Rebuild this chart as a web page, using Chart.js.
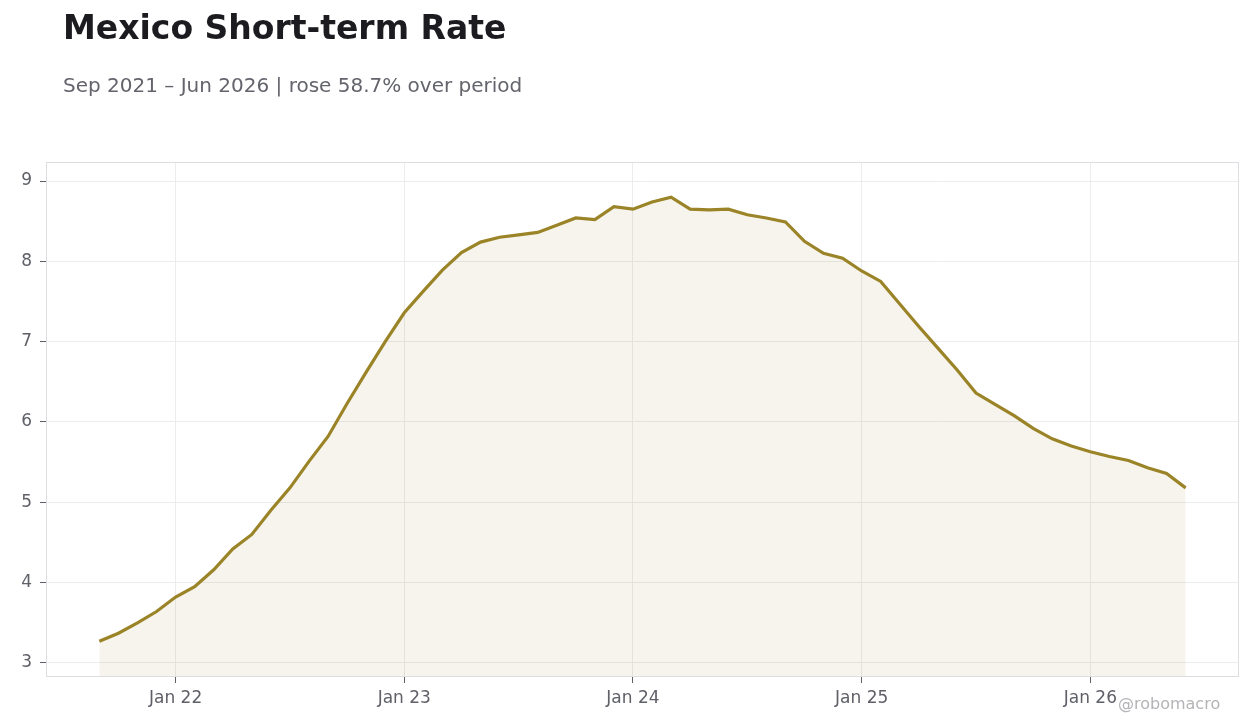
<!DOCTYPE html>
<html>
<head>
<meta charset="utf-8">
<script src="https://cdn.jsdelivr.net/npm/chart.js@4.4.1/dist/chart.umd.min.js"></script>
<style>
  html, body { margin: 0; padding: 0; background: #fff; }
  body { width: 1260px; height: 728px; position: relative; overflow: hidden; font-family: "DejaVu Sans", sans-serif; }
  #title { position: absolute; left: 63px; top: 8px; font-size: 33px; font-weight: bold; color: #1c1c20; }
  #subtitle { position: absolute; left: 63px; top: 73px; font-size: 20px; color: #63646c; }
  #credit { position: absolute; left: 1118px; top: 694px; font-size: 16px; color: #b4b4b8; }
  #wrap { position: absolute; left: 0; top: 0; width: 1260px; height: 728px; }
</style>
</head>
<body>
<div id="wrap"><canvas id="rateChart" width="1260" height="728"></canvas></div>
<div id="title">Mexico Short-term Rate</div>
<div id="subtitle">Sep 2021 – Jun 2026 | rose 58.7% over period</div>
<div id="credit">@robomacro</div>
<script>
// monthly observations, Sep 2021 .. Jun 2026
const months = [
  "Sep 21", "Oct 21", "Nov 21", "Dec 21",
  "Jan 22", "Feb 22", "Mar 22", "Apr 22", "May 22", "Jun 22", "Jul 22", "Aug 22", "Sep 22", "Oct 22", "Nov 22", "Dec 22",
  "Jan 23", "Feb 23", "Mar 23", "Apr 23", "May 23", "Jun 23", "Jul 23", "Aug 23", "Sep 23", "Oct 23", "Nov 23", "Dec 23",
  "Jan 24", "Feb 24", "Mar 24", "Apr 24", "May 24", "Jun 24", "Jul 24", "Aug 24", "Sep 24", "Oct 24", "Nov 24", "Dec 24",
  "Jan 25", "Feb 25", "Mar 25", "Apr 25", "May 25", "Jun 25", "Jul 25", "Aug 25", "Sep 25", "Oct 25", "Nov 25", "Dec 25",
  "Jan 26", "Feb 26", "Mar 26", "Apr 26", "May 26", "Jun 26"
];

const rates = [
  3.27, 3.37, 3.50, 3.64,
  3.82, 3.95, 4.16, 4.42, 4.60, 4.90, 5.18, 5.51, 5.82, 6.23, 6.62, 7.00,
  7.36, 7.63, 7.89, 8.11, 8.24, 8.30, 8.33, 8.36, 8.45, 8.54, 8.52, 8.68,
  8.65, 8.74, 8.80, 8.65, 8.64, 8.65, 8.58, 8.54, 8.49, 8.25, 8.10, 8.04,
  7.88, 7.75, 7.47, 7.19, 6.92, 6.65, 6.36, 6.22, 6.08, 5.92, 5.79, 5.70,
  5.63, 5.57, 5.52, 5.43, 5.36, 5.18
];

const yTicks = [3, 4, 5, 6, 7, 8, 9];

const lineColor = "#9a8427";
const fillColor = "rgba(156, 132, 40, 0.085)";
const textColor = "#5f6068";

// Jan positions for the x ticks
const janIdx = [];
months.forEach((m, i) => { if (m.startsWith("Jan")) janIdx.push(i); });

// light box round the plot area
const frame = {
  id: "frame",
  afterDraw(chart) {
    const a = chart.chartArea;
    const c = chart.ctx;
    c.save();
    c.strokeStyle = "#dddde2";
    c.lineWidth = 1;
    c.strokeRect(a.left + 0.5, a.top + 0.5, a.right - a.left - 1, a.bottom - a.top - 1);
    c.restore();
  }
};

const ctx = document.getElementById("rateChart").getContext("2d");
new Chart(ctx, {
  type: "line",
  data: {
    datasets: [{
      data: rates.map((v, i) => ({ x: i, y: v })),
      borderColor: lineColor,
      backgroundColor: fillColor,
      borderWidth: 3.2,
      fill: "start",
      tension: 0,
      pointRadius: 0
    }]
  },
  options: {
    responsive: false,
    animation: false,
    devicePixelRatio: 1,
    layout: { padding: { left: 0, right: 21, top: 162, bottom: 0 } },
    plugins: { legend: { display: false }, tooltip: { enabled: false } },
    scales: {
      x: {
        type: "linear",
        min: -2.8,
        max: 59.8,
        afterBuildTicks: s => { s.ticks = janIdx.map(v => ({ value: v })); },
        afterFit: s => { s.height = 51; },
        ticks: {
          color: textColor,
          font: { family: "DejaVu Sans", size: 17 },
          padding: 5,
          maxRotation: 0,
          autoSkip: false,
          callback: v => months[v]
        },
        grid: { color: "#ececee", tickLength: 6, tickColor: "#5f6068" },
        border: { display: false }
      },
      y: {
        type: "linear",
        min: 2.825,
        max: 9.237,
        afterBuildTicks: s => { s.ticks = yTicks.map(v => ({ value: v })); },
        afterFit: s => { s.width = 46; },
        ticks: {
          color: textColor,
          font: { family: "DejaVu Sans", size: 17 },
          padding: 8
        },
        grid: { color: "#ececee", tickLength: 6, tickColor: "#5f6068" },
        border: { display: false }
      }
    }
  },
  plugins: [frame]
});
</script>
</body>
</html>
